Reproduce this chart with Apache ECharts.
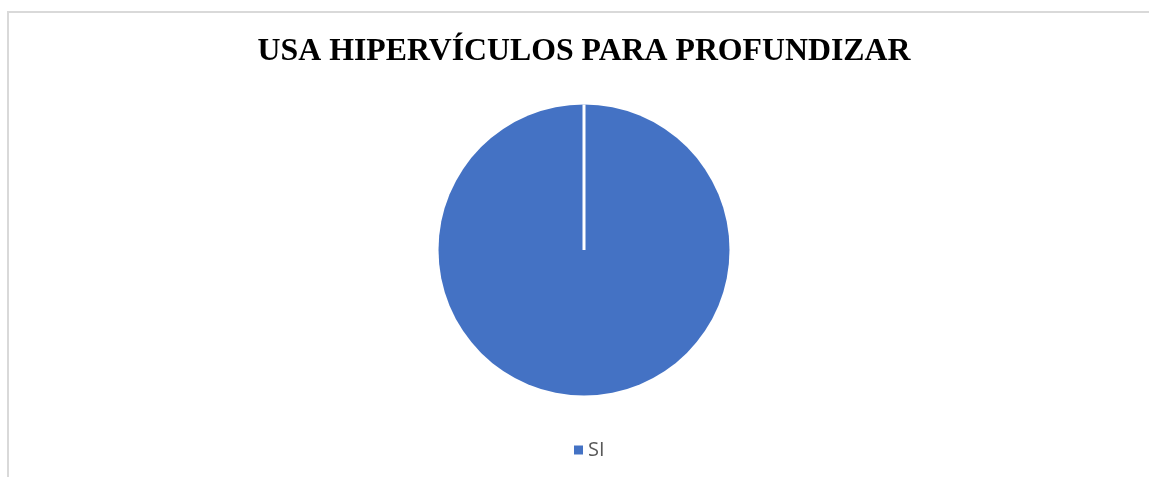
<!DOCTYPE html>
<html>
<head>
<meta charset="utf-8">
<script src="https://cdn.jsdelivr.net/npm/echarts@6/dist/echarts.min.js"></script>
<style>
  html, body { margin: 0; padding: 0; width: 1149px; height: 477px; overflow: hidden; background: #fff; }
  #frame { position: absolute; left: 7px; top: 11px; width: 1160px; height: 520px; border: 2px solid #d9d9d9; box-sizing: border-box; }
  #chart { position: absolute; left: 8px; top: 12px; width: 1152px; height: 465px; }
</style>
</head>
<body>
<div id="frame"></div>
<div id="chart"></div>
<script>
const titleText = 'USA HIPERVÍCULOS PARA PROFUNDIZAR';
const categories = ['SI'];
const values = [100];
const colors = ['#4472c4'];

const chart = echarts.init(document.getElementById('chart'), null, { renderer: 'canvas' });
const option = {
  animation: false,
  backgroundColor: 'transparent',
  title: {
    text: titleText,
    left: 'center',
    top: 19,
    textStyle: { fontFamily: 'Liberation Serif', fontWeight: 'bold', fontSize: 31.8, color: '#000' }
  },
  legend: {
    data: categories,
    bottom: 12,
    left: 561,
    itemWidth: 9,
    itemHeight: 9,
    itemGap: 10,
    icon: 'rect',
    textStyle: { fontFamily: 'Open Sans', fontSize: 20, color: '#595959' }
  },
  series: [{
    type: 'pie',
    center: ['50%', 238],
    radius: 145.5,
    startAngle: 90,
    clockwise: true,
    label: { show: false },
    labelLine: { show: false },
    emphasis: { disabled: true },
    itemStyle: { borderColor: '#fff', borderWidth: 0 },
    data: categories.map((c, i) => ({ name: c, value: values[i], itemStyle: { color: colors[i] } }))
  }]
};
chart.setOption(option);

// Excel draws the slice border from the centre to the start angle; derive it from ECharts' layout
const layout = chart.getModel().getSeriesByIndex(0).getData().getItemLayout(0);
const a = layout.startAngle;
chart.setOption({
  graphic: [{
    type: 'line',
    silent: true,
    z: 100,
    shape: { x1: layout.cx, y1: layout.cy, x2: layout.cx + layout.r * Math.cos(a), y2: layout.cy + layout.r * Math.sin(a) },
    style: { stroke: '#ffffff', lineWidth: 3 }
  }]
});
</script>
</body>
</html>
